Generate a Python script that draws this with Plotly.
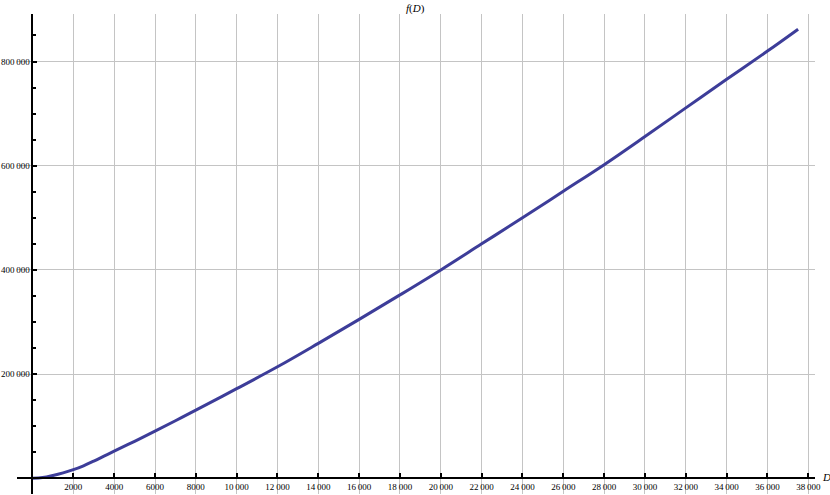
import plotly.graph_objects as go

# Data
D_values = [0, 500, 1000, 1500, 2000, 2500, 3000, 3500, 4000, 5000, 6000, 7000, 8000,
            10000, 12000, 14000, 16000, 18000, 20000, 22000, 24000, 26000, 28000,
            30000, 32000, 34000, 36000, 37500]
f_values = [0, 1500, 5500, 10500, 16500, 24000, 33000, 42500, 52000, 71000, 90500, 110500, 131000,
            172000, 214000, 259000, 305000, 352000, 400000, 450000, 500000, 551000, 602000,
            656000, 711000, 766000, 820000, 862000]

x_tick_vals = list(range(2000, 38001, 2000))
x_tick_text = [str(v) if v < 10000 else f"{v // 1000}\u2009{v % 1000:03d}" for v in x_tick_vals]
y_tick_vals = [200000, 400000, 600000, 800000]
y_tick_text = [f"{v // 1000}\u2009{v % 1000:03d}" for v in y_tick_vals]

W, H = 830, 495
ml, mr, mt, mb = 17, 15, 14, 1
x_range = [-759, 38327]
y_range = [-30135, 891200]

pw = W - ml - mr
ph = H - mt - mb
xpos = (0 - x_range[0]) / (x_range[1] - x_range[0])
ypos = (0 - y_range[0]) / (y_range[1] - y_range[0])

fig = go.Figure()
fig.add_trace(go.Scatter(
    x=D_values, y=f_values, mode="lines",
    line=dict(color="#3d3d99", width=3, shape="spline", smoothing=1.0),
    hoverinfo="skip", showlegend=False,
))

tickfont = dict(family="Liberation Serif", size=9, color="#000000")

fig.update_layout(
    width=W, height=H,
    margin=dict(l=ml, r=mr, t=mt, b=mb, pad=0),
    paper_bgcolor="white", plot_bgcolor="white",
    showlegend=False,
    xaxis=dict(
        range=x_range, anchor="free", position=ypos,
        showline=True, linecolor="black", linewidth=2,
        zeroline=False,
        showgrid=True, gridcolor="#c4c4c4", gridwidth=1,
        tickmode="array", tickvals=x_tick_vals, ticktext=x_tick_text,
        ticks="inside", ticklen=4, tickwidth=1.5, tickcolor="black",
        tickfont=tickfont,
    ),
    yaxis=dict(
        range=y_range, anchor="free", position=xpos,
        showline=True, linecolor="black", linewidth=2,
        zeroline=False,
        showgrid=True, gridcolor="#c4c4c4", gridwidth=1,
        tickmode="array", tickvals=y_tick_vals, ticktext=y_tick_text,
        ticks="inside", ticklen=4, tickwidth=1.5, tickcolor="black",
        tickfont=tickfont,
        minor=dict(tickmode="linear", tick0=0, dtick=50000, ticks="inside",
                   ticklen=2.5, tickwidth=1.5, tickcolor="black", showgrid=False),
    ),
    annotations=[
        dict(text="<i>f</i>(<i>D</i>)", xref="paper", yref="paper",
             x=(415 - ml) / pw, y=1 + (mt - 8) / ph, xanchor="center", yanchor="middle",
             showarrow=False, font=dict(family="Liberation Serif", size=11, color="black")),
        dict(text="<i>D</i>", xref="paper", yref="paper",
             x=(820 - ml) / pw, y=(H - mb - 477) / ph, xanchor="left", yanchor="middle",
             showarrow=False, font=dict(family="Liberation Serif", size=11, color="black")),
    ],
)

fig.write_html("out.html",
               config={"displayModeBar": False},
               post_script="document.body.style.margin='0';document.body.style.overflow='hidden';")
